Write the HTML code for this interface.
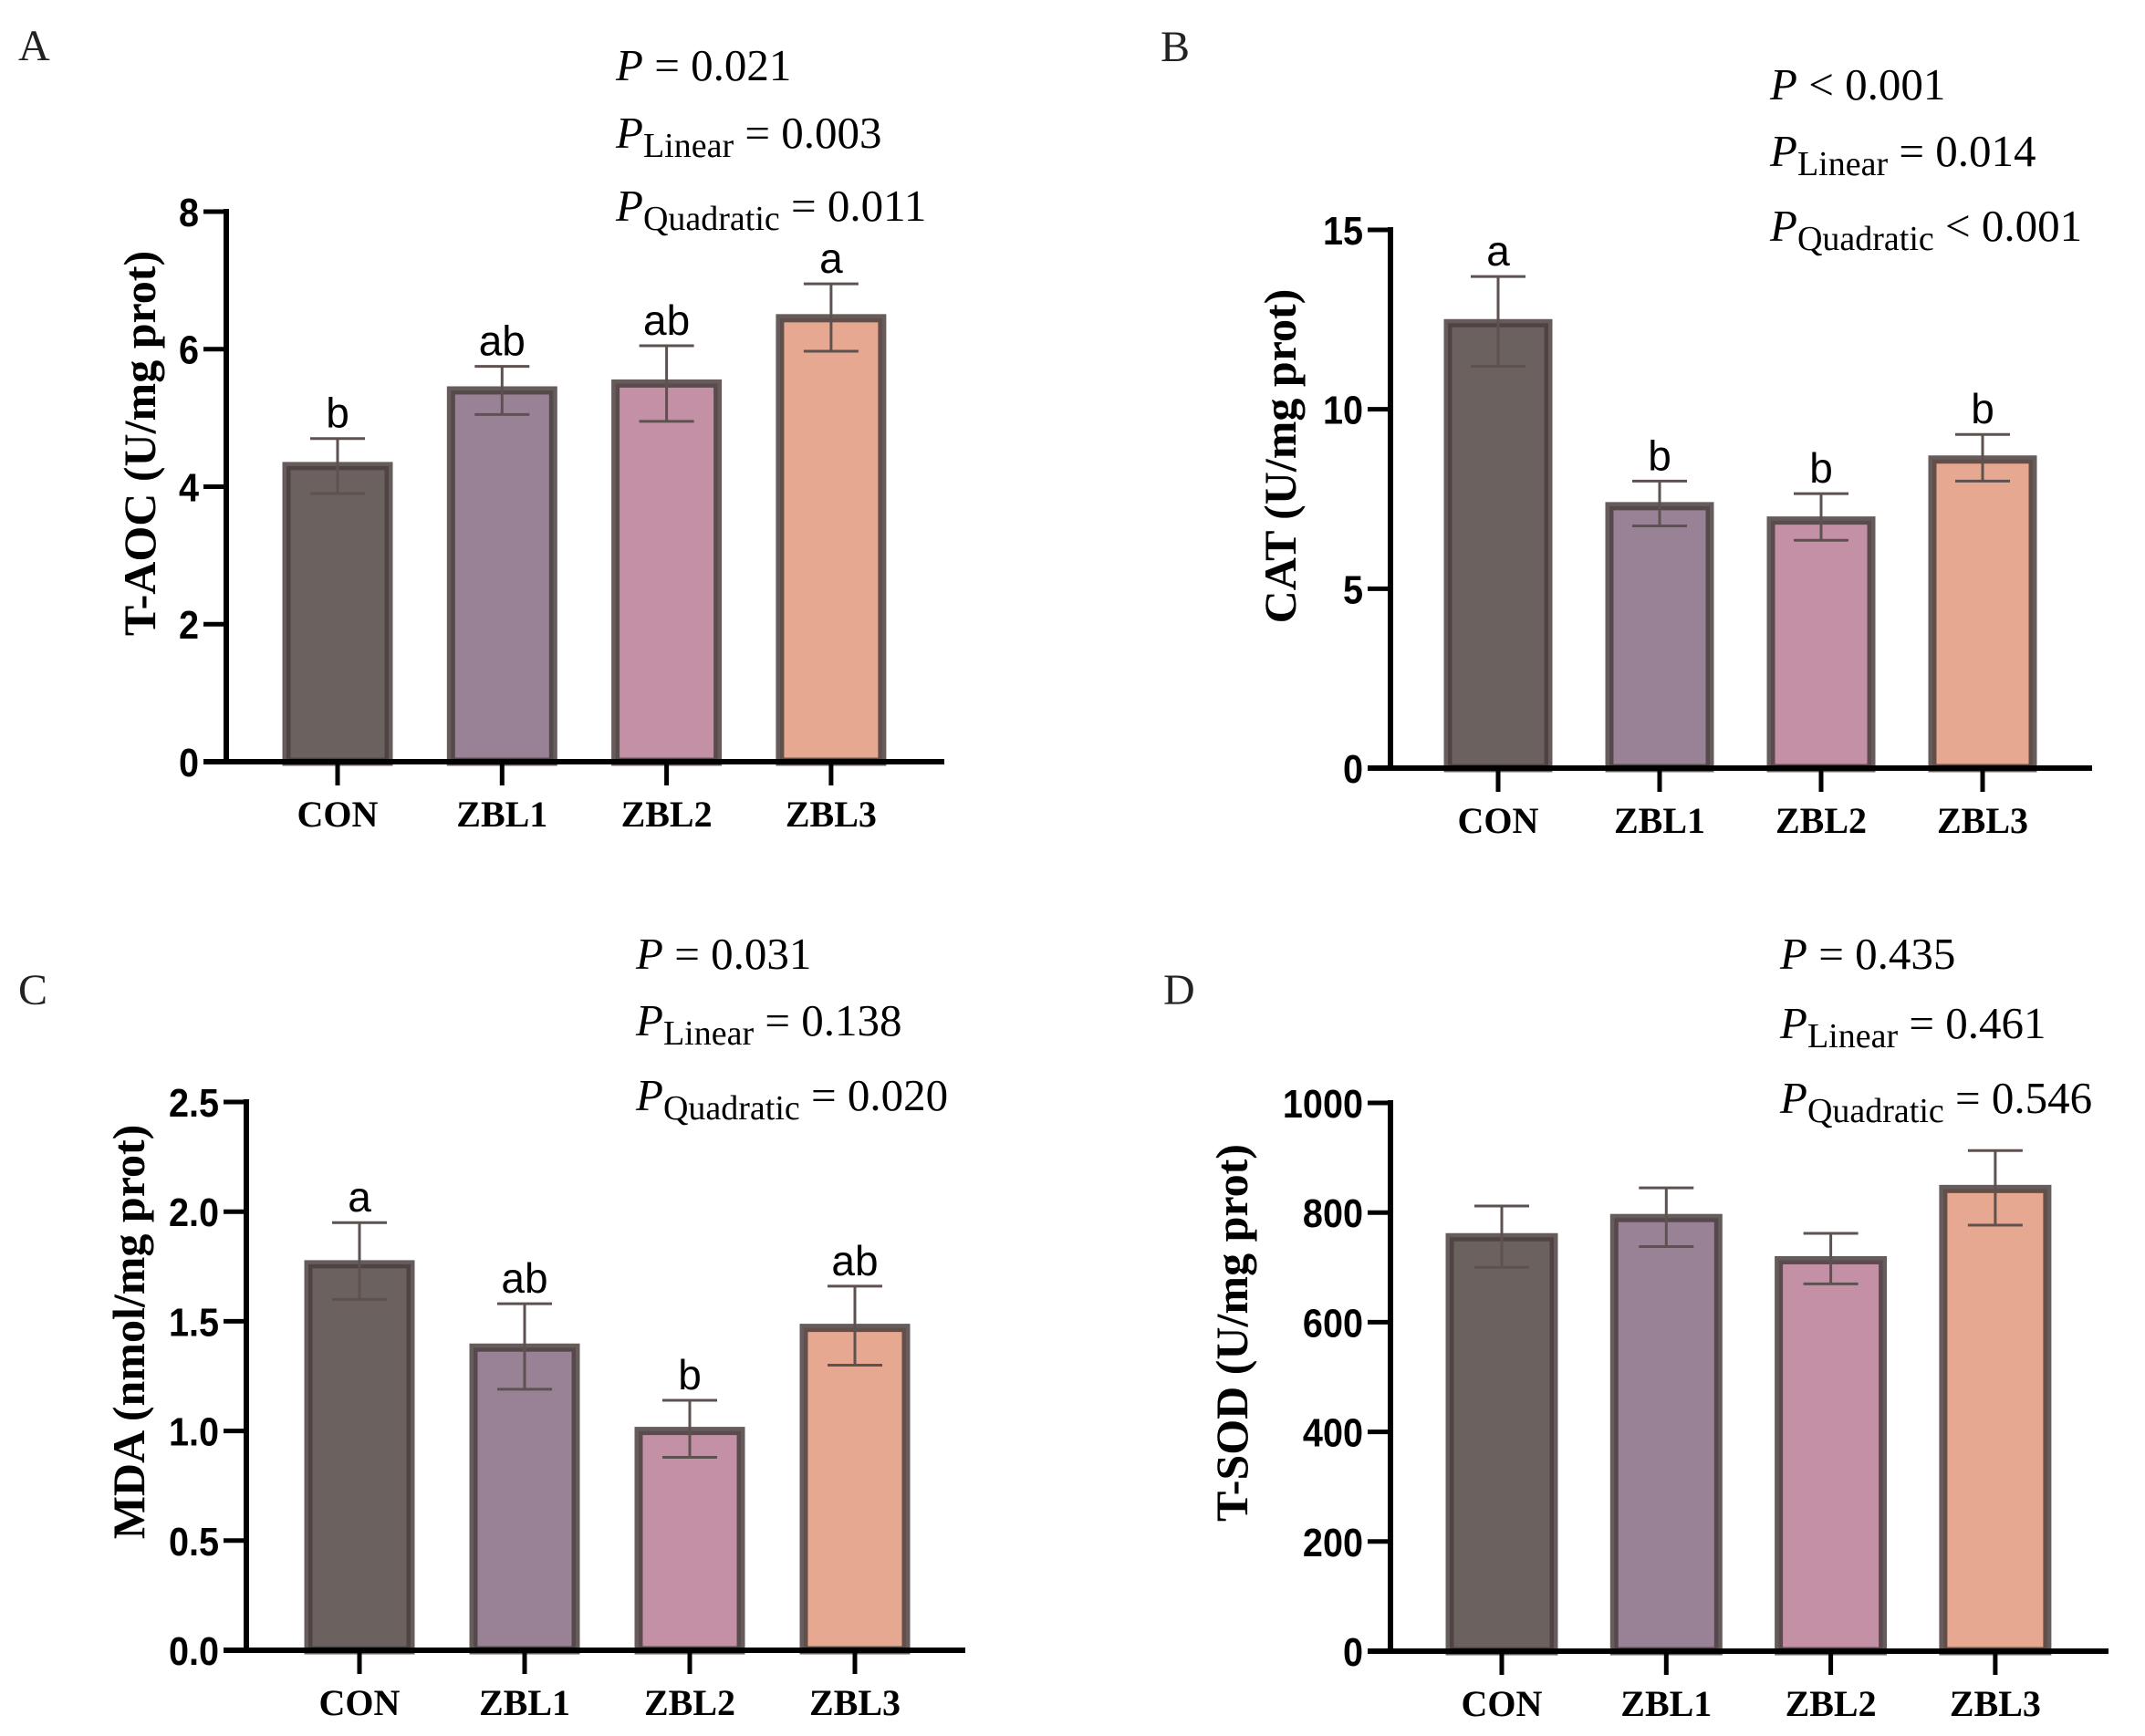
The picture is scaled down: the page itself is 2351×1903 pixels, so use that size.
<!DOCTYPE html>
<html><head><meta charset="utf-8">
<style>
html,body{margin:0;padding:0;background:#fff;}
svg{display:block;}
.tick{font-family:"Liberation Sans Narrow","Liberation Sans",sans-serif;font-weight:bold;font-size:44px;fill:#000;}
.cat{font-family:"Liberation Serif",serif;font-weight:bold;font-size:40px;fill:#000;}
.ttl{font-family:"Liberation Serif",serif;font-weight:bold;font-size:50px;fill:#000;}
.sig{font-family:"Liberation Sans",sans-serif;font-size:46px;fill:#000;}
.pv{font-family:"Liberation Serif",serif;font-size:49px;fill:#000;}
.pl{font-family:"Liberation Serif",serif;font-size:48px;fill:#222;}
</style></head>
<body>
<svg id="fig" width="2351" height="1903" viewBox="0 0 2351 1903" xmlns="http://www.w3.org/2000/svg"></svg>
<script>
const categories = ["CON","ZBL1","ZBL2","ZBL3"];
const taocValues = [4.3, 5.4, 5.5, 6.45];
const taocLow = [3.9, 5.05, 4.95, 5.97];
const taocHigh = [4.7, 5.75, 6.05, 6.95];
const taocSig = ["b","ab","ab","a"];
const taocTicks = [0,2,4,6,8];
const catValues = [12.4, 7.3, 6.9, 8.6];
const catLow = [11.2, 6.75, 6.35, 8.0];
const catHigh = [13.7, 8.0, 7.65, 9.3];
const catSig = ["a","b","b","b"];
const catTicks = [0,5,10,15];
const mdaValues = [1.76, 1.38, 1.0, 1.47];
const mdaLow = [1.6, 1.19, 0.88, 1.3];
const mdaHigh = [1.95, 1.58, 1.14, 1.66];
const mdaSig = ["a","ab","b","ab"];
const mdaTicks = [0,0.5,1.0,1.5,2.0,2.5];
const sodValues = [755, 790, 713, 843];
const sodLow = [700, 738, 670, 777];
const sodHigh = [812, 845, 762, 913];
const sodSig = ["","","",""];
const sodTicks = [0,200,400,600,800,1000];
const colors = ["#6b6260","#9a8296","#c490a6","#e6a890"];

const NS="http://www.w3.org/2000/svg";
const svg=document.getElementById('fig');
function mk(tag,attrs,parent,text){
  const e=document.createElementNS(NS,tag);
  for(const k in attrs)e.setAttribute(k,attrs[k]);
  if(text!==undefined)e.textContent=text;
  (parent||svg).appendChild(e);return e;
}

function panel(cfg){
  const g=mk('g',{});
  
  
  const ymax=cfg.ticks[cfg.ticks.length-1];
  const y=v=>cfg.y0-(v/ymax)*(cfg.y0-cfg.yTop);
  const x=i=>cfg.x0c+i*cfg.step;
  cfg.values.forEach((v,i)=>{
    const r=mk('rect',{x:x(i)-cfg.bw/2,y:y(v),width:cfg.bw,height:cfg.y0-y(v),fill:colors[i],stroke:'#4a403e','stroke-width':9,'stroke-opacity':0.85},g);
    
    
    const eg=mk('g',{stroke:'#5e5250','stroke-width':3},g);
    
    
    mk('line',{x1:x(i),x2:x(i),y1:y(cfg.high[i]),y2:y(cfg.low[i])},eg);
    mk('line',{x1:x(i)-30,x2:x(i)+30,y1:y(cfg.high[i]),y2:y(cfg.high[i])},eg);
    mk('line',{x1:x(i)-30,x2:x(i)+30,y1:y(cfg.low[i]),y2:y(cfg.low[i])},eg);
    if(cfg.sig[i]){
      const s=mk('text',{x:x(i),y:y(cfg.high[i])-12,'text-anchor':'middle',class:'sig'},g,cfg.sig[i]);
      
      
    }
    const c=mk('text',{x:x(i),y:cfg.y0+71,'text-anchor':'middle',class:'cat'},g,categories[i]);
    
    
    mk('line',{x1:x(i),x2:x(i),y1:cfg.y0,y2:cfg.y0+26,stroke:'#000','stroke-width':5},g);
  });
  const ax=mk('line',{x1:cfg.x0,x2:cfg.x0,y1:cfg.yTop-3,y2:cfg.y0+3,stroke:'#000','stroke-width':6},g);
  
  
  const xa=mk('line',{x1:cfg.x0-25,x2:cfg.xEnd,y1:cfg.y0,y2:cfg.y0,stroke:'#000','stroke-width':6},g);
  
  
  cfg.ticks.forEach(t=>{
    mk('line',{x1:cfg.x0-25,x2:cfg.x0,y1:y(t),y2:y(t),stroke:'#000','stroke-width':5},g);
    const tl=mk('text',{x:cfg.x0-30,y:y(t)+16,'text-anchor':'end',class:'tick',transform:`translate(${cfg.x0-30},0) scale(0.9,1) translate(${-(cfg.x0-30)},0)`},g,cfg.fmt(t));
    
    
  });
  const tt=mk('text',{x:0,y:0,'text-anchor':'middle',class:'ttl',transform:`translate(${cfg.tx},${cfg.ty}) rotate(-90)`},g,cfg.title);
  
  
  const pl=mk('text',{x:cfg.lx,y:cfg.ly,class:'pl'},g,cfg.letter);
  
  
  const pv=mk('g',{},g);
  
  
  const t1=mk('text',{x:cfg.px,y:cfg.pys[0],class:'pv'},pv);
  mk('tspan',{'font-style':'italic'},t1,'P');mk('tspan',{},t1,' '+cfg.p[0]);
  const t2=mk('text',{x:cfg.px,y:cfg.pys[1],class:'pv'},pv);
  mk('tspan',{'font-style':'italic'},t2,'P');mk('tspan',{dy:10,'font-size':38},t2,'Linear');mk('tspan',{dy:-10},t2,' '+cfg.p[1]);
  const t3=mk('text',{x:cfg.px,y:cfg.pys[2],class:'pv'},pv);
  mk('tspan',{'font-style':'italic'},t3,'P');mk('tspan',{dy:10,'font-size':38},t3,'Quadratic');mk('tspan',{dy:-10},t3,' '+cfg.p[2]);
}
const f0=t=>String(t), f1=t=>t.toFixed(1);
panel({name:'t-aoc',values:taocValues,low:taocLow,high:taocHigh,sig:taocSig,ticks:taocTicks,fmt:f0,
  x0:248,xEnd:1035,y0:835,yTop:232,x0c:370,step:180.3,bw:112,title:'T-AOC (U/mg prot)',tx:170,ty:486,
  letter:'A',lx:20,ly:66,px:675,pys:[88,162,242],p:['= 0.021','= 0.003','= 0.011']});
panel({name:'cat',values:catValues,low:catLow,high:catHigh,sig:catSig,ticks:catTicks,fmt:f0,
  x0:1524,xEnd:2293,y0:842,yTop:252,x0c:1642,step:177,bw:110,title:'CAT (U/mg prot)',tx:1420,ty:500,
  letter:'B',lx:1272,ly:67,px:1940,pys:[109,182,264],p:['< 0.001','= 0.014','< 0.001']});
panel({name:'mda',values:mdaValues,low:mdaLow,high:mdaHigh,sig:mdaSig,ticks:mdaTicks,fmt:f1,
  x0:270,xEnd:1058,y0:1809,yTop:1208,x0c:394,step:181,bw:112,title:'MDA (nmol/mg prot)',tx:158,ty:1460,
  letter:'C',lx:20,ly:1101,px:697,pys:[1062,1135,1217],p:['= 0.031','= 0.138','= 0.020']});
panel({name:'t-sod',values:sodValues,low:sodLow,high:sodHigh,sig:sodSig,ticks:sodTicks,fmt:f0,
  x0:1524,xEnd:2311,y0:1810,yTop:1209,x0c:1646,step:180.3,bw:114,title:'T-SOD (U/mg prot)',tx:1367,ty:1461,
  letter:'D',lx:1275,ly:1101,px:1951,pys:[1062,1138,1220],p:['= 0.435','= 0.461','= 0.546']});
</script>
</body></html>
